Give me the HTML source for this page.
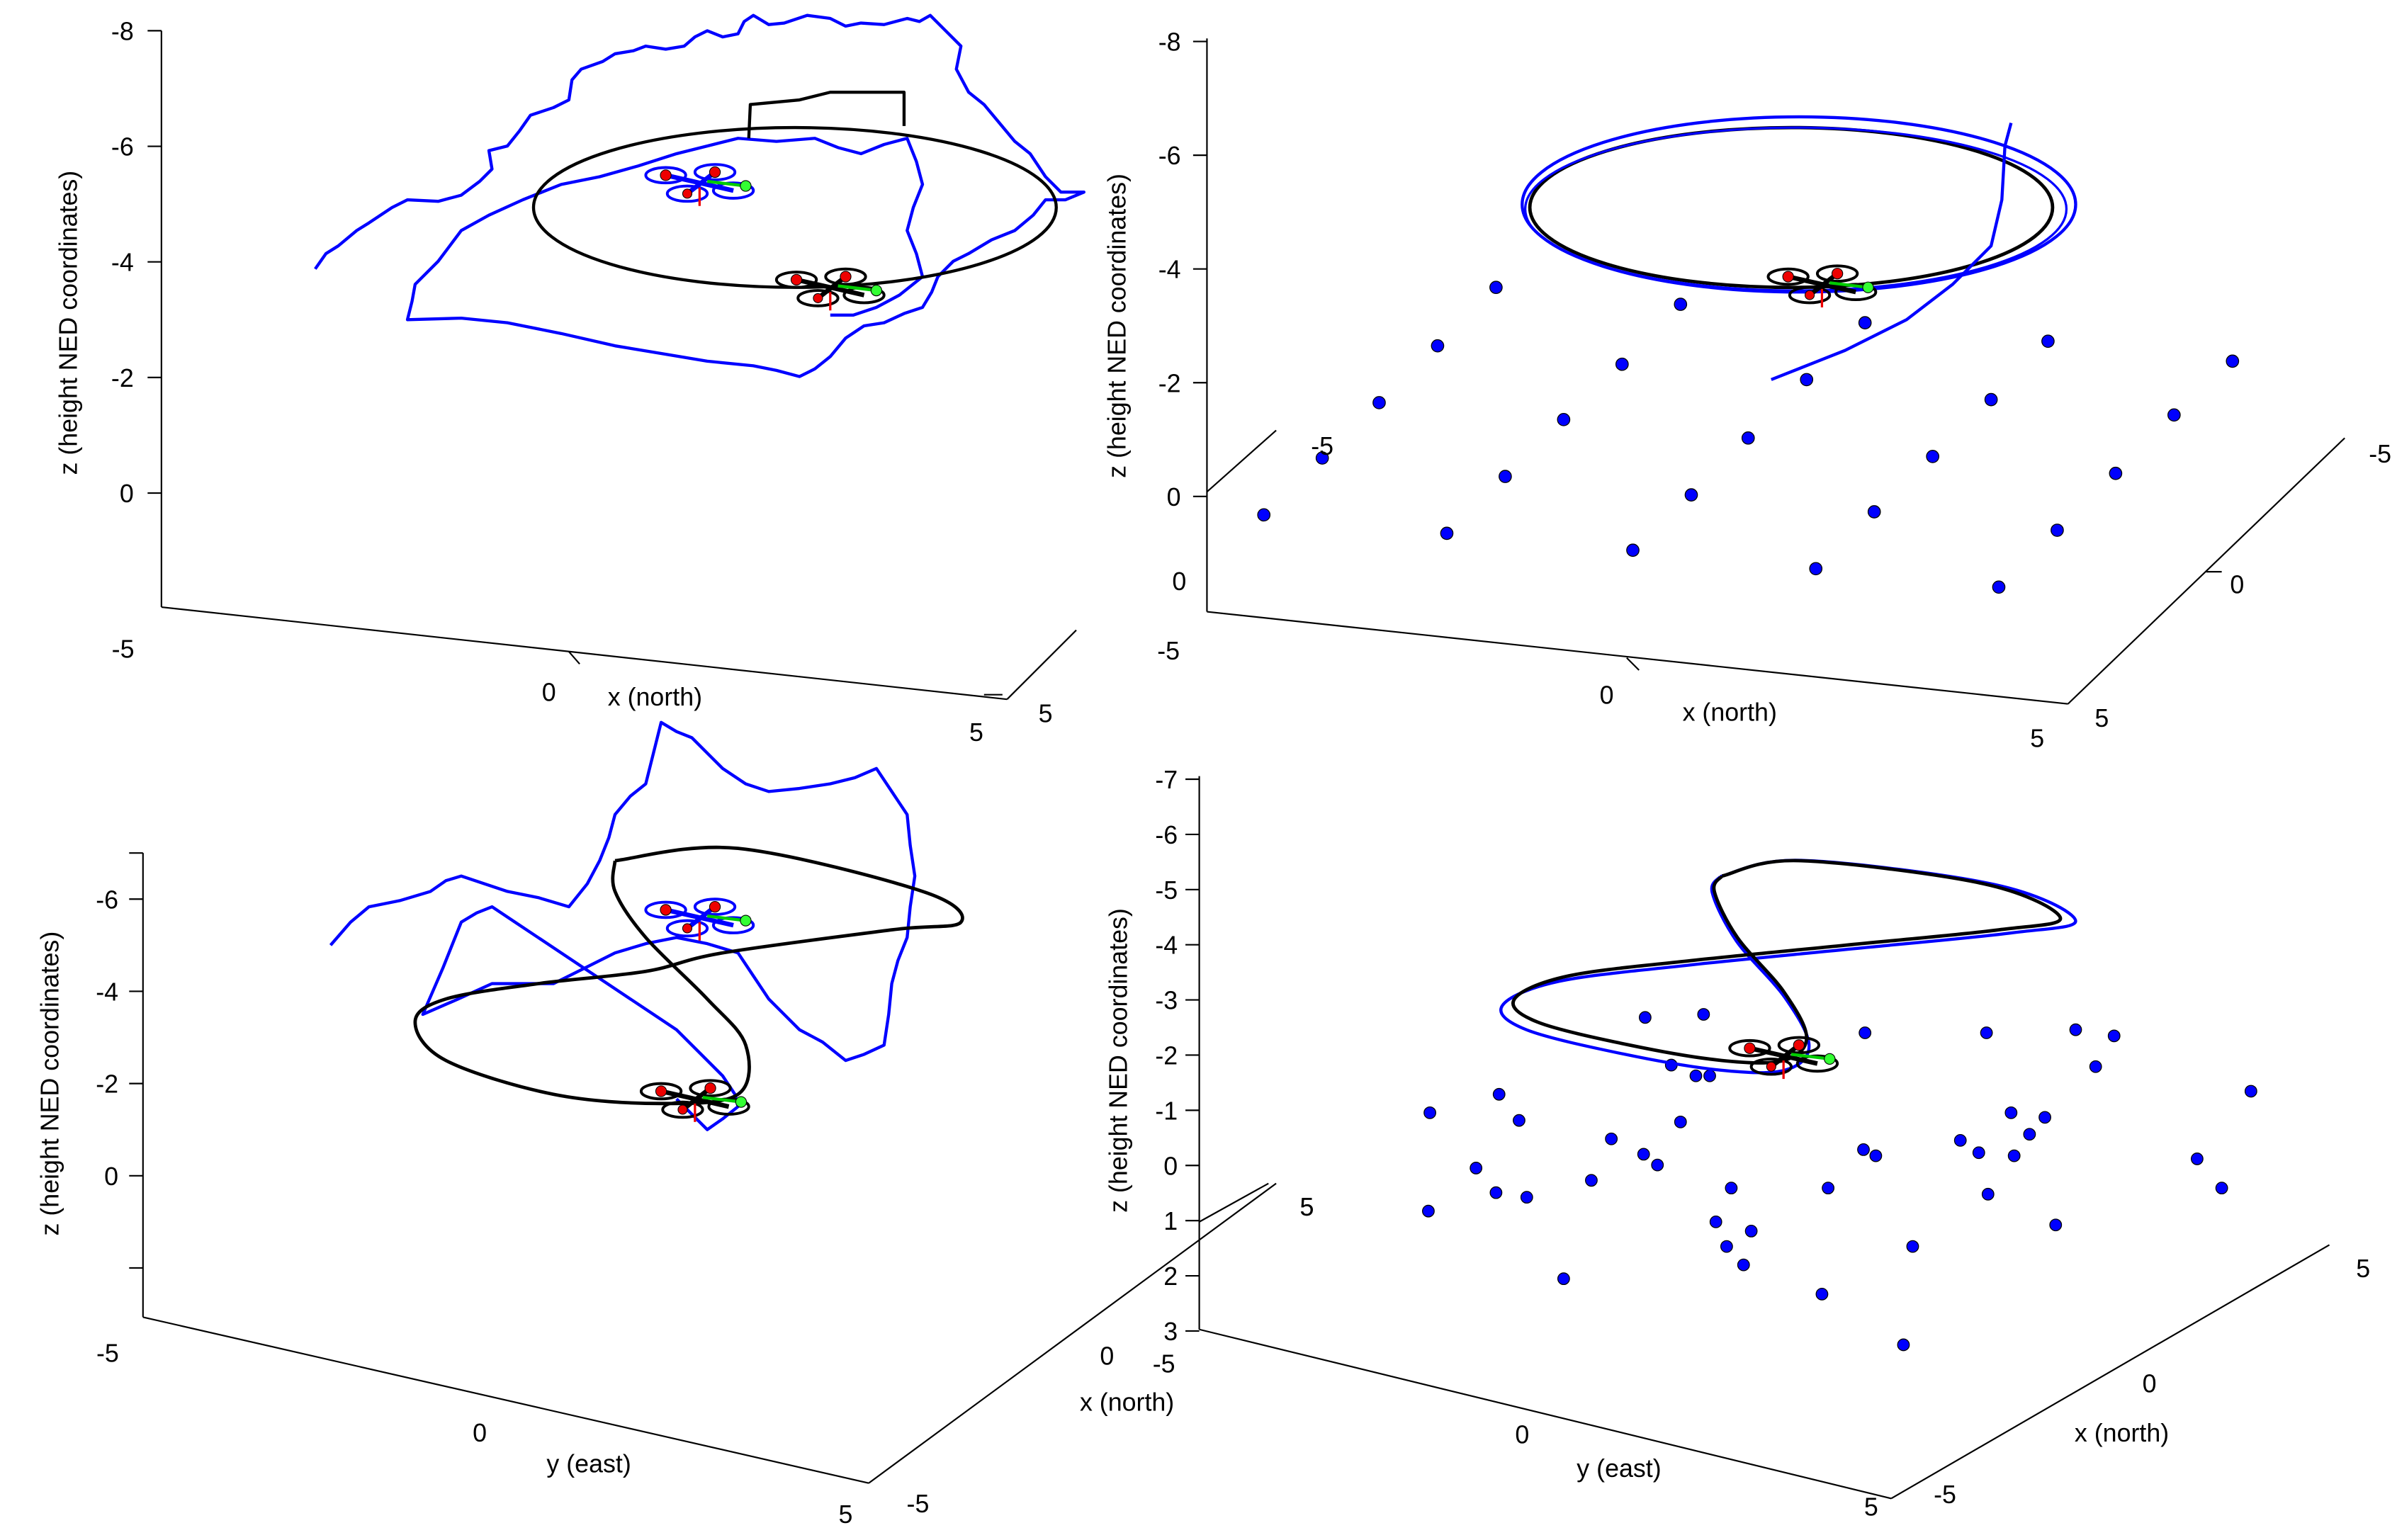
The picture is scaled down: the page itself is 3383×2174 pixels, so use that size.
<!DOCTYPE html>
<html><head><meta charset="utf-8"><style>
html,body{margin:0;padding:0;background:#fff}
svg{display:block}
text{font-family:"Liberation Sans",sans-serif;font-size:16.5px;fill:#000}
</style></head><body>
<svg id="fig" width="3383" height="2174" viewBox="0 0 1559 1002" preserveAspectRatio="none" xmlns="http://www.w3.org/2000/svg">
<g id="axes" stroke="#000" stroke-width="1" fill="none"></g>
<g id="marks"></g>
<g id="labels"></g>
</svg>
<script>
// ---- data (screen-plane projected coordinates of each panel) ----
const p1Walk=[[205,175],[212,165],[220,160],[232,150],[240,145],[255,135],[265,130],[285,131],[300,127],[312,118],[320,110],[318,98],[330,95],[338,85],[345,75],[360,70],[370,65],[372,52],[378,45],[392,40],[400,35],[412,33],[420,30],[433,32],[445,30],[452,24],[460,20],[470,24],[480,22],[484,14],[490,10],[500,16],[510,15],[525,10],[540,12],[550,17],[560,15],[575,16],[590,12],[598,14],[605,10],[615,20],[625,30],[622,45],[630,60],[640,68],[650,80],[660,92],[670,100],[680,115],[690,125],[705,125],[693,130],[680,130],[672,140],[660,150],[645,156],[630,165],[620,170],[610,180],[606,190],[600,200],[588,204],[575,210],[562,212],[550,220],[540,232],[530,240],[520,245],[505,241],[490,238],[460,235],[430,230],[400,225],[365,217],[330,210],[300,207],[265,208],[268,196],[270,185],[285,170],[300,150],[318,140],[340,130],[365,120],[390,115],[415,108],[440,100],[460,95],[480,90],[505,92],[530,90],[545,96],[560,100],[575,94],[590,90],[596,105],[600,120],[594,135],[590,150],[596,165],[600,180],[585,192],[570,200],[555,205],[540,205]];
const p3Walk=[[215,615],[228,600],[240,590],[260,586],[280,580],[290,573],[300,570],[315,575],[330,580],[350,584],[370,590],[382,575],[390,560],[396,545],[400,530],[410,518],[420,510],[425,490],[430,470],[440,476],[450,480],[462,492],[470,500],[485,510],[500,515],[520,513],[540,510],[556,506],[570,500],[580,515],[590,530],[592,550],[595,570],[592,590],[590,610],[584,625],[580,640],[578,660],[575,680],[562,686],[550,690],[535,678],[520,670],[510,660],[500,650],[490,635],[480,620],[460,614],[440,610],[420,614],[400,620],[380,630],[360,640],[340,640],[320,640],[298,650],[275,660],[288,630],[300,600],[310,594],[320,590],[335,600],[350,610],[365,620],[380,630],[395,640],[410,650],[425,660],[440,670],[455,685],[470,700],[478,712],[480,720],[470,728],[460,735],[450,725],[440,715]];
const p1Circle=[517,135,170,52];
const p2Circle=[1165,135,170,52];
const p3Eight=[[400,560],[480,552],[600,580],[625,600],[580,605],[470,620],[420,632],[350,640],[290,650],[270,665],[290,690],[360,712],[430,718],[480,712],[485,680],[460,650],[420,610],[400,580],[400,560]];
const p4Eight=[[1120,570],[1170,560],[1290,575],[1340,597],[1300,605],[1200,615],[1100,625],[1020,635],[985,650],[1000,665],[1060,680],[1120,690],[1160,690],[1175,675],[1160,645],[1130,610],[1115,580],[1120,570]];
const p2Dots=[[973,187],[1093,198],[935,225],[1055,237],[897,262],[1017,273],[1175,247],[860,298],[979,310],[1137,285],[1295,260],[822,335],[941,347],[1100,322],[1257,297],[1414,270],[1062,358],[1219,333],[1376,308],[1181,370],[1338,345],[1300,382],[1452,235],[1332,222],[1213,210]];
const p4Dots=[[930,724],[975,712],[988,729],[960,760],[973,776],[993,779],[929,788],[1048,741],[1035,768],[1069,751],[1078,758],[1093,730],[1087,693],[1070,662],[1108,660],[1103,700],[1112,700],[1126,773],[1116,795],[1139,801],[1123,811],[1134,823],[1017,832],[1185,842],[1189,773],[1212,748],[1220,752],[1244,811],[1213,672],[1275,742],[1287,750],[1293,777],[1308,724],[1330,727],[1320,738],[1310,752],[1350,670],[1363,694],[1375,674],[1337,797],[1429,754],[1445,773],[1464,710],[1292,672],[1238,875]];
const zTicks1=["-8","-6","-4","-2","0"];
const zTicks4=["-7","-6","-5","-4","-3","-2","-1","0","1","2","3"];

const NS="http://www.w3.org/2000/svg";
const axes=document.getElementById('axes'),marks=document.getElementById('marks'),labels=document.getElementById('labels');
function mk(tag,attrs,parent){const e=document.createElementNS(NS,tag);for(const k in attrs)e.setAttribute(k,attrs[k]);parent.appendChild(e);return e;}
function line(x1,y1,x2,y2,name){const e=mk('line',{x1,y1,x2,y2},axes);

}
function txt(x,y,s,name,rot,anchor){const e=mk('text',{x,y,'text-anchor':anchor||'middle'},labels);e.textContent=s;if(rot)e.setAttribute('transform','rotate(-90 '+x+' '+y+')');

}
function poly(pts,color,w,name){const e=mk('polyline',{points:pts.map(p=>p.join(',')).join(' '),fill:'none',stroke:color,'stroke-width':w,'stroke-linejoin':'round'},marks);

}
function smooth(pts,color,w,name,off){off=off||[0,0,1];const cx=pts.reduce((a,p)=>a+p[0],0)/pts.length,cy=pts.reduce((a,p)=>a+p[1],0)/pts.length;
const P=pts.map(p=>[cx+(p[0]-cx)*off[2]+off[0],cy+(p[1]-cy)*off[2]+off[1]]);
let d='M'+P[0].join(',');for(let i=0;i<P.length-1;i++){const p0=P[Math.max(i-1,0)],p1=P[i],p2=P[i+1],p3=P[Math.min(i+2,P.length-1)];
d+=' C'+(p1[0]+(p2[0]-p0[0])/6)+','+(p1[1]+(p2[1]-p0[1])/6)+' '+(p2[0]-(p3[0]-p1[0])/6)+','+(p2[1]-(p3[1]-p1[1])/6)+' '+p2[0]+','+p2[1];}
const e=mk('path',{d,fill:'none',stroke:color,'stroke-width':w},marks);

}
function ell(c,color,w,name,s){s=s||1;const e=mk('ellipse',{cx:c[0],cy:c[1],rx:c[2]*s,ry:c[3]*s,fill:'none',stroke:color,'stroke-width':w},marks);

}
function dot(x,y,r,fill,name){const e=mk('circle',{cx:x,cy:y,r,fill,stroke:'#000','stroke-width':0.6},marks);

}
function drone(x,y,col,name){const g=mk('g',{},marks);


[[-22,-8],[10,-10],[-8,4],[22,2]].forEach(o=>mk('ellipse',{cx:x+o[0],cy:y+o[1],rx:13,ry:5,fill:'none',stroke:col,'stroke-width':1.8},g));
mk('line',{x1:x-22,y1:y-8,x2:x+22,y2:y+2,stroke:col,'stroke-width':3},g);
mk('line',{x1:x+10,y1:y-10,x2:x-8,y2:y+4,stroke:col,'stroke-width':3},g);
mk('line',{x1:x+5,y1:y-4,x2:x+30,y2:y-1,stroke:'#0c0','stroke-width':2},g);
mk('circle',{cx:x-22,cy:y-8,r:3.5,fill:'#e00',stroke:'#000','stroke-width':0.5},g);
mk('circle',{cx:x+10,cy:y-10,r:3.5,fill:'#e00',stroke:'#000','stroke-width':0.5},g);
mk('circle',{cx:x-8,cy:y+4,r:3,fill:'#e00',stroke:'#000','stroke-width':0.5},g);
mk('circle',{cx:x+30,cy:y-1,r:3.5,fill:'#3f3',stroke:'#000','stroke-width':0.5},g);
mk('line',{x1:x,y1:y,x2:x,y2:y+12,stroke:'#e00','stroke-width':1.5},g);}

// ---- Panel 1 ----
line(105,20,105,395,'p1-z-axis');line(105,395,655,455,'p1-x-axis');line(655,455,700,410,'p1-y-axis');
zTicks1.forEach((t,i)=>{const y=20+i*75.2;line(105,y,96,y,'p1-z-tick');txt(87,y+6,t,'p1-z-tick-label',0,'end');});
line(370,424,377,432,'p1-x-tick');line(640,452,652,452,'p1-y-tick');
txt(50,210,'z (height NED coordinates)','p1-z-title',1);
txt(80,428,'-5','p1-x-tick-label');txt(357,456,'0','p1-x-tick-label');txt(426,459,'x  (north)','p1-x-title');
txt(635,482,'5','p1-x-tick-label');txt(680,470,'5','p1-y-tick-label');
poly(p1Walk,'#00f',2,'p1-trajectory');ell(p1Circle,'#000',2,'p1-reference-circle');
poly([[487,90],[488,68],[520,65],[540,60],[588,60],[588,82]],'#000',2,'p1-ref-path');
drone(455,122,'#00f','p1-drone-blue');drone(540,190,'#000','p1-drone-black');

// ---- Panel 2 ----
line(785,25,785,398,'p2-z-axis');line(785,398,1345,458,'p2-x-axis');line(1345,458,1525,285,'p2-y-axis');line(785,320,830,280,'p2-side-axis');
zTicks1.forEach((t,i)=>{const y=27+i*74;line(785,y,776,y,'p2-z-tick');txt(768,y+6,t,'p2-z-tick-label',0,'end');});
txt(732,212,'z (height NED coordinates)','p2-z-title',1);
txt(760,429,'-5','p2-x-tick-label');txt(1045,458,'0','p2-x-tick-label');txt(1125,469,'x  (north)','p2-x-title');
txt(1325,486,'5','p2-x-tick-label');txt(1367,473,'5','p2-y-tick-label');txt(1455,386,'0','p2-y-tick-label');txt(1548,301,'-5','p2-y-tick-label');
txt(860,296,'-5','p2-side-tick-label');txt(767,384,'0','p2-side-tick-label');
line(1058,428,1066,436,'p2-x-tick');line(1435,372,1445,372,'p2-y-tick');
p2Dots.forEach(p=>dot(p[0],p[1],4,'#00f','p2-landmark'));
ell(p2Circle,'#000',2.2,'p2-reference-circle');
ell([1170,133,180,57],'#00f',2,'p2-trajectory-loop');ell([1168,136,176,53],'#00f',1.5,'p2-trajectory-loop2');
poly([[1152,247],[1200,228],[1240,208],[1270,185],[1295,160],[1302,130],[1304,95],[1308,80]],'#00f',2,'p2-trajectory-tail');
drone(1185,188,'#000','p2-drone');

// ---- Panel 3 ----
line(93,555,93,857,'p3-z-axis');line(93,857,565,965,'p3-y-axis');line(565,965,830,770,'p3-x-axis');
["-6","-4","-2","0",""].forEach((t,i)=>{const y=585+i*60;line(93,y,84,y,'p3-z-tick');if(t)txt(77,y+6,t,'p3-z-tick-label',0,'end');});
line(93,555,84,555,'p3-z-tick');
txt(38,705,'z (height NED coordinates)','p3-z-title',1);
txt(70,886,'-5','p3-y-tick-label');txt(312,938,'0','p3-y-tick-label');txt(383,958,'y (east)','p3-y-title');txt(550,991,'5','p3-y-tick-label');
txt(597,984,'-5','p3-x-tick-label');txt(720,888,'0','p3-x-tick-label');txt(733,918,'x  (north)','p3-x-title');txt(850,791,'5','p3-x-tick-label');
poly(p3Walk,'#00f',2,'p3-trajectory');smooth(p3Eight,'#000',2.2,'p3-reference-eight');
drone(455,600,'#00f','p3-drone-blue');drone(452,718,'#000','p3-drone-black');

// ---- Panel 4 ----
line(780,505,780,865,'p4-z-axis');line(780,865,1230,975,'p4-y-axis');line(1230,975,1515,810,'p4-x-axis');line(780,795,825,770,'p4-side-axis');
zTicks4.forEach((t,i)=>{const y=507+i*35.9;line(780,y,771,y,'p4-z-tick');txt(766,y+6,t,'p4-z-tick-label',0,'end');});
txt(733,690,'z (height NED coordinates)','p4-z-title',1);
txt(757,893,'-5','p4-y-tick-label');txt(990,939,'0','p4-y-tick-label');txt(1053,961,'y (east)','p4-y-title');txt(1217,986,'5','p4-y-tick-label');
txt(1265,978,'-5','p4-x-tick-label');txt(1398,906,'0','p4-x-tick-label');txt(1380,938,'x  (north)','p4-x-title');txt(1537,831,'5','p4-x-tick-label');txt(850,791,'5','p4-side-tick-label');
p4Dots.forEach(p=>dot(p[0],p[1],3.8,'#00f','p4-landmark'));
smooth(p4Eight,'#00f',2,'p4-trajectory',[0,3,1.05]);smooth(p4Eight,'#000',2.2,'p4-reference-eight');
drone(1160,690,'#000','p4-drone');
</script>
</body></html>
